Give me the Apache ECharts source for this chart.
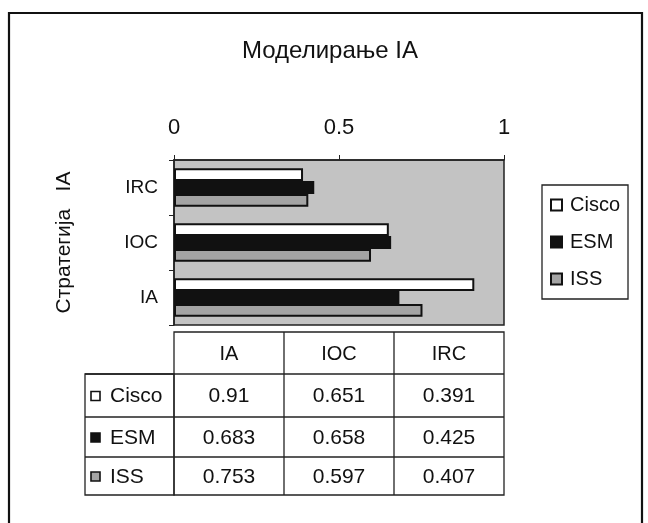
<!DOCTYPE html>
<html>
<head>
<meta charset="utf-8">
<script src="https://cdn.jsdelivr.net/npm/echarts@6/dist/echarts.min.js"></script>
<style>
html,body{margin:0;padding:0;background:#fff;}
#chart{width:648px;height:523px;}
</style>
</head>
<body>
<div id="chart"></div>
<script>
var titleText = 'Моделирање IA';
var yAxisName = 'Стратегија   IA';
var categories = ['IA', 'IOC', 'IRC'];
var seriesNames = ['Cisco', 'ESM', 'ISS'];
var ciscoValues = [0.91, 0.651, 0.391];
var esmValues = [0.683, 0.658, 0.425];
var issValues = [0.753, 0.597, 0.407];
var xTicks = [0, 0.5, 1];

var FONT = "'Liberation Sans', Arial, sans-serif";
var fills = ['#ffffff', '#111111', '#a4a4a4'];
var allValues = [ciscoValues, esmValues, issValues];

var chart = echarts.init(document.getElementById('chart'), null, {renderer: 'canvas'});

var gridL = 174, gridT = 160, gridW = 330, gridH = 165;

// table built from data arrays
function buildTable() {
  var els = [];
  var colW = gridW / categories.length;
  var headTop = 332, headBot = 374;
  var rowBots = [417, 457, 495];
  var rowHeadL = 85;
  var lineStyle = {stroke: '#222', lineWidth: 1.3};
  els.push({type: 'rect', shape: {x: gridL, y: headTop, width: gridW, height: rowBots[2] - headTop}, style: {fill: null, stroke: '#222', lineWidth: 1.3}});
  els.push({type: 'rect', shape: {x: rowHeadL, y: headBot, width: gridL - rowHeadL, height: rowBots[2] - headBot}, style: {fill: null, stroke: '#222', lineWidth: 1.3}});
  for (var c = 1; c < categories.length; c++) {
    els.push({type: 'line', shape: {x1: gridL + c * colW, y1: headTop, x2: gridL + c * colW, y2: rowBots[2]}, style: lineStyle});
  }
  var ys = [headBot, rowBots[0], rowBots[1]];
  ys.forEach(function (y) {
    els.push({type: 'line', shape: {x1: rowHeadL, y1: y, x2: gridL + gridW, y2: y}, style: lineStyle});
  });
  categories.forEach(function (cat, c) {
    els.push({type: 'text', x: gridL + (c + 0.5) * colW, y: (headTop + headBot) / 2 + 1,
      style: {text: cat, fill: '#111', font: '20px ' + FONT, align: 'center', verticalAlign: 'middle'}});
  });
  var rowTops = [headBot, rowBots[0], rowBots[1]];
  seriesNames.forEach(function (name, r) {
    var cy = (rowTops[r] + rowBots[r]) / 2 + 1;
    els.push({type: 'rect', shape: {x: 91, y: cy - 5, width: 9, height: 9}, style: {fill: fills[r], stroke: '#111', lineWidth: 1.6}});
    els.push({type: 'text', x: 110, y: cy, style: {text: name, fill: '#111', font: '21px ' + FONT, align: 'left', verticalAlign: 'middle'}});
    allValues[r].forEach(function (v, c) {
      els.push({type: 'text', x: gridL + (c + 0.5) * colW, y: cy,
        style: {text: String(v), fill: '#111', font: '21px ' + FONT, align: 'center', verticalAlign: 'middle'}});
    });
  });
  els.push({type: 'polyline', shape: {points: [[9, 540], [9, 13], [642, 13], [642, 540]]}, style: {fill: null, stroke: '#111', lineWidth: 2.2}});
  return els;
}

var option = {
  backgroundColor: '#ffffff',
  animation: false,
  title: {
    text: titleText,
    left: 242, top: 39, padding: 0,
    textStyle: {fontFamily: FONT, fontSize: 24, fontWeight: 'normal', color: '#111'}
  },
  legend: {
    orient: 'vertical',
    left: 542, top: 185,
    padding: [10, 8, 10, 8],
    itemGap: 17,
    itemWidth: 11, itemHeight: 11,
    borderColor: '#222', borderWidth: 1.3,
    icon: 'rect',
    data: seriesNames,
    textStyle: {fontFamily: FONT, fontSize: 20, color: '#111', padding: [0, 0, 0, 3]}
  },
  grid: {
    left: gridL, top: gridT, width: gridW, height: gridH,
    show: true, backgroundColor: '#c3c3c3', borderColor: '#222', borderWidth: 1.5,
    containLabel: false
  },
  xAxis: {
    type: 'value', position: 'top',
    min: xTicks[0], max: xTicks[xTicks.length - 1], interval: 0.5,
    axisLine: {show: true, lineStyle: {color: '#222', width: 1.5}},
    axisTick: {show: true, length: 5, lineStyle: {color: '#222'}},
    splitLine: {show: false},
    axisLabel: {fontFamily: FONT, fontSize: 22, color: '#111', margin: 21}
  },
  yAxis: {
    type: 'category', data: categories,
    name: yAxisName, nameLocation: 'middle', nameRotate: 90, nameGap: 99,
    nameTextStyle: {fontFamily: FONT, fontSize: 21, color: '#111'},
    axisLine: {show: true, lineStyle: {color: '#222', width: 1.5}},
    axisTick: {show: true, length: 5, lineStyle: {color: '#222'}},
    axisLabel: {fontFamily: FONT, fontSize: 19, color: '#111', margin: 16}
  },
  series: seriesNames.map(function (name, i) {
    return {
      name: name, type: 'bar', data: allValues[i],
      barGap: '0%', barCategoryGap: '30%',
      itemStyle: {color: fills[i], borderColor: '#111', borderWidth: 2}
    };
  }),
  graphic: buildTable()
};
chart.setOption(option);
</script>
</body>
</html>
